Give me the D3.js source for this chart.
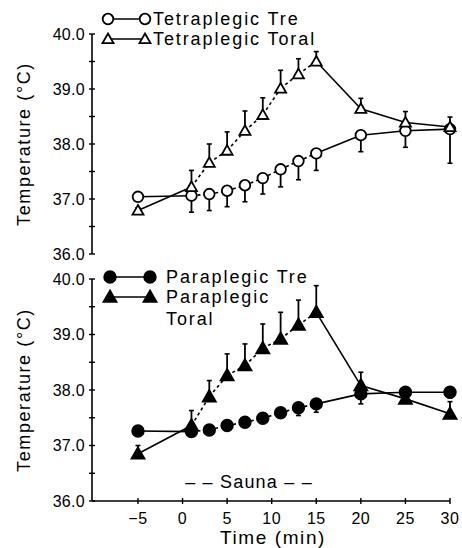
<!DOCTYPE html>
<html><head><meta charset="utf-8">
<script src="https://cdn.jsdelivr.net/npm/d3@7"></script>
<style>body{margin:0;background:#fff}svg{display:block}text{font-family:"Liberation Sans",Arial,Helvetica,sans-serif;fill:#000}</style>
</head><body><svg id="c" width="462" height="548"></svg>
<script>
const times = [-5, 1, 3, 5, 7, 9, 11, 13, 15, 20, 25, 30];
const xTicks = [-5, 0, 5, 10, 15, 20, 25, 30];
const yTicks = [36, 37, 38, 39, 40];
const tetraTre = [37.04, 37.06, 37.09, 37.15, 37.25, 37.38, 37.54, 37.69, 37.83, 38.16, 38.24, 38.27];
const tetraTreSE = [0.05, 0.3, 0.3, 0.29, 0.3, 0.29, 0.32, 0.34, 0.31, 0.3, 0.3, 0.62];
const tetraToral = [36.79, 37.22, 37.66, 37.88, 38.24, 38.53, 39.01, 39.27, 39.5, 38.64, 38.39, 38.31];
const tetraToralSE = [0.05, 0.3, 0.34, 0.34, 0.36, 0.31, 0.33, 0.28, 0.18, 0.19, 0.2, 0.18];
const paraTre = [37.26, 37.25, 37.28, 37.36, 37.42, 37.49, 37.59, 37.68, 37.75, 37.93, 37.96, 37.96];
const paraTreSE = [0.03, 0.05, 0.05, 0.05, 0.05, 0.05, 0.08, 0.14, 0.15, 0.18, 0.05, 0.1];
const paraToral = [36.85, 37.36, 37.88, 38.26, 38.44, 38.75, 38.92, 39.17, 39.4, 38.08, 37.84, 37.57];
const paraToralSE = [0.15, 0.27, 0.29, 0.39, 0.39, 0.44, 0.48, 0.45, 0.48, 0.24, 0.05, 0.22];
const sauna = [1, 15];

const svg = d3.select("#c");
const x = d3.scaleLinear().domain([-10, 30]).range([93.4, 450]);
const yTop = d3.scaleLinear().domain([36, 40]).range([254, 34]);
const yBot = d3.scaleLinear().domain([36, 40]).range([501, 279]);
const axX = 92;

function yAxis(y) {
  const g = svg.append("g");
  g.append("line").attr("x1", axX).attr("x2", axX).attr("y1", y(40)).attr("y2", y(36)).attr("stroke", "#000").attr("stroke-width", 1.6);
  d3.range(36, 40.01, 0.5).forEach(v => {
    g.append("line").attr("x1", axX - 3).attr("x2", axX + 3).attr("y1", y(v)).attr("y2", y(v)).attr("stroke", "#000").attr("stroke-width", 1.4);
  });
  yTicks.forEach(v => {
    g.append("text").attr("x", axX - 7).attr("y", y(v)).attr("dy", "0.36em").attr("text-anchor", "end").attr("font-size", 16).attr("letter-spacing", 0.3).text(v.toFixed(1));
  });
  const cy = (y(40) + y(36)) / 2;
  g.append("text").attr("transform", `translate(30,${cy}) rotate(-90)`).attr("text-anchor", "middle").attr("font-size", 18).attr("letter-spacing", 1.6).text("Temperature (°C)");
}

function series(y, vals, se, dir, shape, filled) {
  const g = svg.append("g");
  const pts = times.map((t, i) => [x(t), y(vals[i])]);
  for (let i = 0; i < pts.length - 1; i++) {
    const dashed = times[i] >= sauna[0] && times[i + 1] <= sauna[1];
    g.append("line").attr("x1", pts[i][0]).attr("y1", pts[i][1]).attr("x2", pts[i + 1][0]).attr("y2", pts[i + 1][1])
      .attr("stroke", "#000").attr("stroke-width", 1.6).attr("stroke-dasharray", dashed ? "3,3" : null);
  }
  times.forEach((t, i) => {
    const ye = y(vals[i] + dir * se[i]);
    g.append("line").attr("x1", x(t)).attr("x2", x(t)).attr("y1", y(vals[i])).attr("y2", ye).attr("stroke", "#000").attr("stroke-width", 1.8);
    g.append("line").attr("x1", x(t) - 2.5).attr("x2", x(t) + 2.5).attr("y1", ye).attr("y2", ye).attr("stroke", "#000").attr("stroke-width", 1.6);
  });
  pts.forEach(p => drawMarker(g, p[0], p[1], shape, filled));
}

function drawMarker(g, cx, cy, shape, filled) {
  if (shape === "circle") {
    g.append("circle").attr("cx", cx).attr("cy", cy).attr("r", filled ? 5.8 : 5.3)
      .attr("fill", filled ? "#000" : "#fff").attr("stroke", "#000").attr("stroke-width", 1.8);
  } else {
    const s = filled ? 6.5 : 5.5;
    g.append("path").attr("d", `M${cx},${cy - s}L${cx + s},${cy + s * 0.75}L${cx - s},${cy + s * 0.75}Z`)
      .attr("fill", filled ? "#000" : "#fff").attr("stroke", "#000").attr("stroke-width", 1.8);
  }
}

function legendRow(xa, xb, y, shape, filled, txt, tx) {
  const g = svg.append("g");
  g.append("line").attr("x1", xa).attr("x2", xb).attr("y1", y).attr("y2", y).attr("stroke", "#000").attr("stroke-width", 1.6);
  drawMarker(g, xa, y, shape, filled);
  drawMarker(g, xb, y, shape, filled);
  if (txt) g.append("text").attr("x", tx).attr("y", y).attr("dy", "0.36em").attr("font-size", 18).attr("letter-spacing", 1.9).text(txt);
}

// Top panel
yAxis(yTop);
series(yTop, tetraTre, tetraTreSE, -1, "circle", false);
series(yTop, tetraToral, tetraToralSE, 1, "triangle", false);
legendRow(108, 145, 19, "circle", false, "Tetraplegic Tre", 153);
legendRow(108, 145, 39, "triangle", false, "Tetraplegic Toral", 153);

// Bottom panel
yAxis(yBot);
svg.append("line").attr("x1", axX).attr("x2", x(30)).attr("y1", yBot(36)).attr("y2", yBot(36)).attr("stroke", "#000").attr("stroke-width", 1.6);
xTicks.forEach(t => {
  svg.append("line").attr("x1", x(t)).attr("x2", x(t)).attr("y1", yBot(36) - 3).attr("y2", yBot(36) + 3).attr("stroke", "#000").attr("stroke-width", 1.4);
  svg.append("text").attr("x", x(t)).attr("y", 518).attr("dy", "0.36em").attr("text-anchor", "middle").attr("font-size", 16).attr("letter-spacing", 0.5).text(t < 0 ? "\u2212" + Math.abs(t) : t);
});
svg.append("text").attr("x", 273).attr("y", 537).attr("dy", "0.36em").attr("text-anchor", "middle").attr("font-size", 19).attr("letter-spacing", 1.6).text("Time (min)");
svg.append("text").attr("x", 249).attr("y", 482).attr("dy", "0.36em").attr("text-anchor", "middle").attr("font-size", 18).attr("letter-spacing", 1.2).text("\u2013 \u2013 Sauna \u2013 \u2013");

series(yBot, paraTre, paraTreSE, -1, "circle", true);
series(yBot, paraToral, paraToralSE, 1, "triangle", true);
legendRow(110, 150, 277, "circle", true, "Paraplegic Tre", 166);
legendRow(110, 150, 297, "triangle", true, "Paraplegic", 166);
svg.append("text").attr("x", 166).attr("y", 319).attr("dy", "0.36em").attr("font-size", 18).attr("letter-spacing", 1.9).text("Toral");
</script></body></html>
